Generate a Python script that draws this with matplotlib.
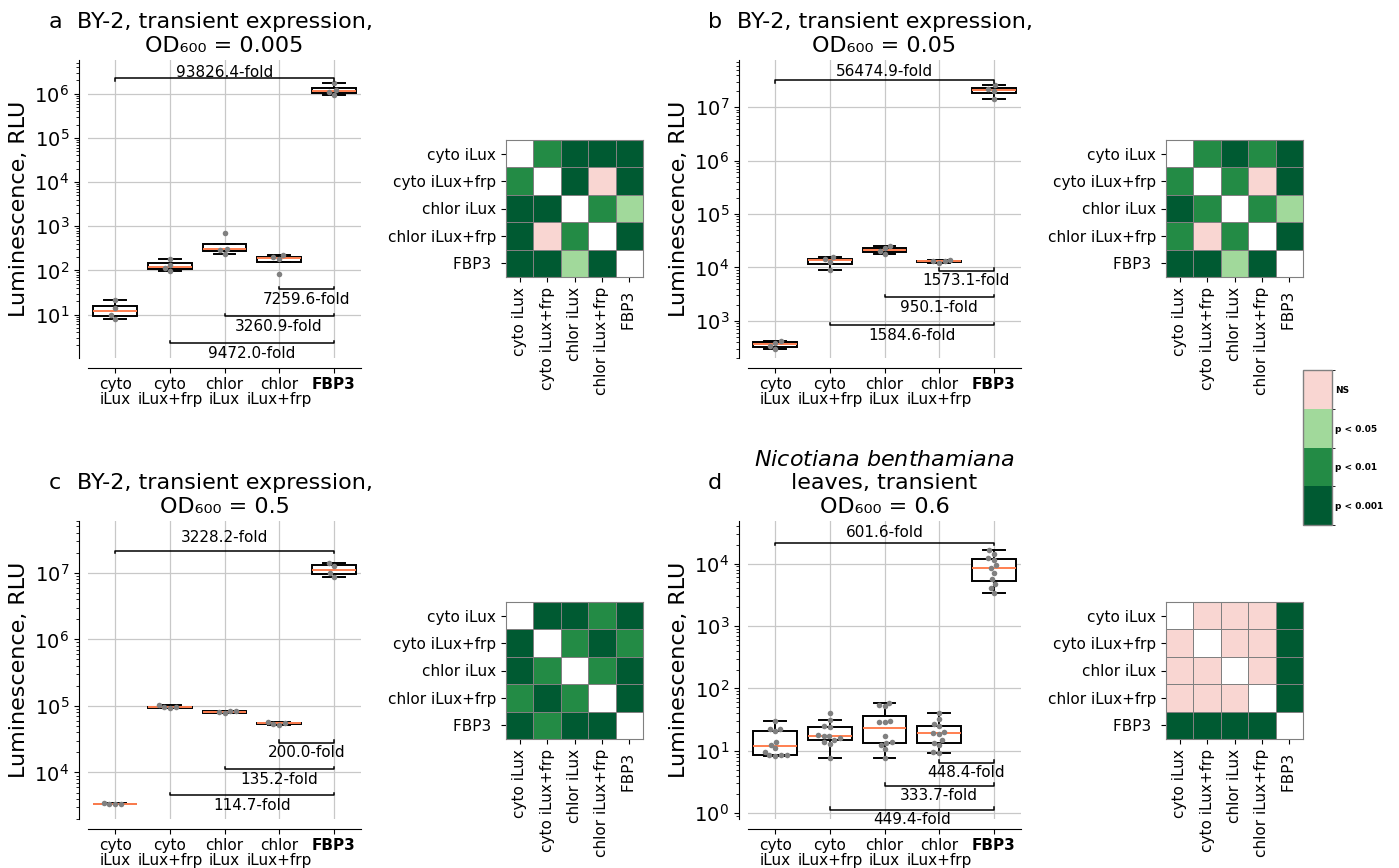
import numpy as np
import matplotlib
matplotlib.use("Agg")
import matplotlib.pyplot as plt
import seaborn as sns
from matplotlib.colors import ListedColormap, BoundaryNorm
import matplotlib.colorbar as mcolorbar

# ---------------- data ----------------
groups = ["cyto\niLux", "cyto\niLux+frp", "chlor\niLux", "chlor\niLux+frp", "FBP3"]
hm_labels = ["cyto iLux", "cyto iLux+frp", "chlor iLux", "chlor iLux+frp", "FBP3 "]

a_values = [
    [8.1, 9.8, 14.2, 21.2],
    [95, 113, 130, 184],
    [235, 290, 305, 693],
    [81, 184, 197, 227],
    [9.3e5, 1.11e6, 1.21e6, 1.78e6],
]
b_values = [
    [300, 335, 390, 420],
    [8900, 12600, 14300, 15400],
    [17500, 20000, 23000, 25100],
    [12200, 12900, 13300, 13700],
    [1.41e7, 2.05e7, 2.25e7, 2.58e7],
]
c_values = [
    [3330, 3360, 3400, 3440],
    [93000, 95000, 96000, 102000],
    [77500, 80000, 82500, 84000],
    [52500, 54000, 55500, 57500],
    [8.5e6, 9.8e6, 1.25e7, 1.41e7],
]
d_values = [
    [8.4, 8.5, 8.6, 8.7, 9.5, 11, 12.5, 14, 20.5, 22, 22.5, 30],
    [7.6, 13, 14, 15, 16, 17, 17.5, 18, 24, 25, 31.7, 41],
    [7.6, 10.6, 12.5, 13.5, 14, 17, 29, 29.5, 30, 52, 55, 57.8],
    [9.1, 9.5, 12.5, 13.5, 15, 18.5, 19.5, 20, 25, 26.5, 32, 40],
    [16600, 14450, 12170, 11500, 9500, 8420, 7000, 5610, 4720, 4030, 3350],
]

a_folds = ["93826.4-fold", "9472.0-fold", "3260.9-fold", "7259.6-fold"]
b_folds = ["56474.9-fold", "1584.6-fold", "950.1-fold", "1573.1-fold"]
c_folds = ["3228.2-fold", "114.7-fold", "135.2-fold", "200.0-fold"]
d_folds = ["601.6-fold", "449.4-fold", "333.7-fold", "448.4-fold"]

# significance codes: -1 same group, 0 NS, 1 p<0.05, 2 p<0.01, 3 p<0.001
a_sig = [[-1, 2, 3, 3, 3],
         [2, -1, 3, 0, 3],
         [3, 3, -1, 2, 1],
         [3, 0, 2, -1, 3],
         [3, 3, 1, 3, -1]]
b_sig = [[-1, 2, 3, 2, 3],
         [2, -1, 2, 0, 3],
         [3, 2, -1, 2, 1],
         [2, 0, 2, -1, 3],
         [3, 3, 1, 3, -1]]
c_sig = [[-1, 3, 3, 2, 3],
         [3, -1, 2, 3, 2],
         [3, 2, -1, 2, 3],
         [2, 3, 2, -1, 3],
         [3, 2, 3, 3, -1]]
d_sig = [[-1, 0, 0, 0, 3],
         [0, -1, 0, 0, 3],
         [0, 0, -1, 0, 3],
         [0, 0, 0, -1, 3],
         [3, 3, 3, 3, -1]]

sig_names = ["NS", "p < 0.05", "p < 0.01", "p < 0.001"]
sig_colors = ["#f9d6d2", "#a1d99b", "#238b45", "#005a32"]

titles = {
    "a": "BY-2, transient expression,\nOD\u2086\u2080\u2080 = 0.005",
    "b": "BY-2, transient expression,\nOD\u2086\u2080\u2080 = 0.05",
    "c": "BY-2, transient expression,\nOD\u2086\u2080\u2080 = 0.5",
    "d": "$\\mathit{Nicotiana\\ benthamiana}$\nleaves, transient\nOD\u2086\u2080\u2080 = 0.6",
}

# ---------------- layout (pixels) ----------------
W, H = 1399, 868
fig = plt.figure(figsize=(W / 100, H / 100), dpi=100)


def px_axes(left, top, width, height):
    return fig.add_axes([left / W, 1 - (top + height) / H, width / W, height / H])


panels = {
    "a": dict(values=a_values, folds=a_folds, sig=a_sig, box=(88, 60), hm=(506, 140),
              ylim=(1.04, 5.8e6), top_y=2.24e6, low_y=[2.27, 9.2, 37.7], top_off=5.7),
    "b": dict(values=b_values, folds=b_folds, sig=b_sig, box=(748, 60), hm=(1166, 140),
              ylim=(200, 7.7e7), top_y=3.24e7, low_y=[830, 2740, 8660], top_off=9),
    "c": dict(values=c_values, folds=c_folds, sig=c_sig, box=(88, 521), hm=(506, 602),
              ylim=(2000, 6.0e7), top_y=2.14e7, low_y=[4520, 11200, 28200], top_off=13),
    "d": dict(values=d_values, folds=d_folds, sig=d_sig, box=(748, 521), hm=(1166, 602),
              ylim=(0.81, 4.8e4), top_y=21700, low_y=[1.13, 2.77, 6.5], top_off=10),
}

BOX_W, BOX_H = 273, 298
HM = 137
median_color = "#ff7f50"

hm_cmap = ListedColormap(["white"] + sig_colors)
hm_norm = BoundaryNorm([-1.5, -0.5, 0.5, 1.5, 2.5, 3.5], hm_cmap.N)

for key, p in panels.items():
    left, top = p["box"]
    ax = px_axes(left, top, BOX_W, BOX_H)
    for s in ["top", "right"]:
        ax.spines[s].set_visible(False)
    ax.spines["left"].set_position(("outward", 6.5))
    ax.spines["bottom"].set_position(("outward", 7))
    ax.set_yscale("log")
    ax.set_ylim(*p["ylim"])
    ax.set_xlim(-0.5, 4.5)
    vals = p["values"]
    ax.boxplot(vals, positions=range(5), widths=0.8, showfliers=False,
               patch_artist=True,
               boxprops=dict(facecolor="white", edgecolor="black", linewidth=1.4),
               whiskerprops=dict(color="black", linewidth=1.4),
               capprops=dict(color="black", linewidth=1.4),
               medianprops=dict(color=median_color, linewidth=1.4),
               zorder=2)
    xs = [i for i, v in enumerate(vals) for _ in v]
    ys = [y for v in vals for y in v]
    sns.swarmplot(x=xs, y=ys, ax=ax, color="gray", size=4, zorder=3)
    ax.set_yscale("log")
    ax.set_ylim(*p["ylim"])
    ax.set_xlim(-0.5, 4.5)
    ax.grid(True, which="major", color="#c8c8c8", linewidth=0.9)
    ax.set_axisbelow(True)
    ax.set_xticks(range(5))
    labels = ax.set_xticklabels(groups, fontsize=11, linespacing=1.0)
    labels[-1].set_fontweight("bold")
    ax.tick_params(axis="y", labelsize=14)
    ax.set_ylabel("Luminescence, RLU", fontsize=16)
    ax.set_xlabel("")
    ax.set_title(titles[key], fontsize=16, pad=6)
    fig.text((left - 33) / W, 1 - (top - 38) / H, key, fontsize=16,
             ha="center", va="center")

    # brackets
    lo, hi = p["ylim"]
    px_dec = BOX_H / (np.log10(hi) - np.log10(lo))
    f = 10 ** (2.5 / px_dec)
    y = p["top_y"]
    ax.plot([0, 0, 4, 4], [y / f, y, y, y / f], color="black", lw=1.1, zorder=4)
    ax.annotate(p["folds"][0], xy=(2, y), xytext=(0, p["top_off"] / 1.389),
                textcoords="offset points", ha="center", va="center", fontsize=11)
    for j, g in enumerate([1, 2, 3]):
        y = p["low_y"][j]
        ax.plot([g, g, 4, 4], [y * f, y, y, y * f], color="black", lw=1.1, zorder=4)
        ax.annotate(p["folds"][j + 1], xy=((g + 4) / 2, y), xytext=(0, -10 / 1.389),
                    textcoords="offset points", ha="center", va="center", fontsize=11)

    # heatmap
    hl, ht = p["hm"]
    hx = px_axes(hl, ht, HM, HM)
    M = np.array(p["sig"], dtype=float)
    hx.pcolormesh(np.arange(6), np.arange(6), M, cmap=hm_cmap, norm=hm_norm,
                  edgecolors="gray", linewidth=0.7)
    hx.set_xlim(0, 5)
    hx.set_ylim(5, 0)
    hx.set_xticks(np.arange(5) + 0.5)
    hx.set_yticks(np.arange(5) + 0.5)
    hx.set_xticklabels(hm_labels, rotation=90, fontsize=11)
    hx.set_yticklabels(hm_labels, fontsize=11)
    for s in hx.spines.values():
        s.set_color("gray")
        s.set_linewidth(0.8)

# legend colour bar
cax = px_axes(1303, 370, 29, 155)
leg_cmap = ListedColormap(sig_colors[::-1])
leg_norm = BoundaryNorm([0, 1, 2, 3, 4], 4)
cb = mcolorbar.ColorbarBase(cax, cmap=leg_cmap, norm=leg_norm, ticks=[0.5, 1.5, 2.5, 3.5])
cb.set_ticklabels(sig_names[::-1])
cb.outline.set_edgecolor("gray")
cb.outline.set_linewidth(1)
cax.tick_params(length=0, pad=2)
for t in cax.get_yticklabels():
    t.set_fontsize(6.5)
    t.set_fontweight("bold")

fig.savefig("out.png", dpi=100)
